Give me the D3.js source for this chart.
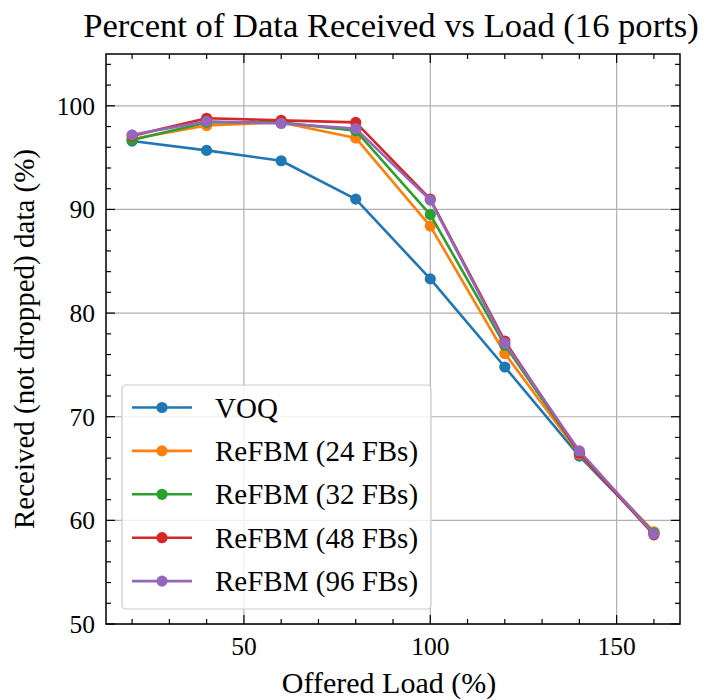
<!DOCTYPE html>
<html>
<head>
<meta charset="utf-8">
<script src="https://cdn.jsdelivr.net/npm/d3@7"></script>
<style>
  html, body { margin: 0; padding: 0; background: #fff; }
  svg { display: block; font-family: "Liberation Serif", "DejaVu Serif", serif; }
</style>
</head>
<body>
<svg id="chart" width="704" height="700"></svg>
<script>
// Offered load levels (%)
const loads = [20, 40, 60, 80, 100, 120, 140, 160];

// Received (not dropped) data (%) for each scheme
const voq     = [96.6, 95.7, 94.7, 91.0, 83.3, 74.8, 66.2, 58.8];
const refbm24 = [96.8, 98.1, 98.4, 96.9, 88.4, 76.1, 66.4, 58.9];
const refbm32 = [96.7, 98.4, 98.4, 97.6, 89.5, 76.9, 66.5, 58.8];
const refbm48 = [97.1, 98.8, 98.6, 98.4, 91.0, 77.3, 66.5, 58.6];
const refbm96 = [97.2, 98.5, 98.3, 97.8, 90.9, 77.1, 66.7, 58.7];

const seriesNames = ["VOQ", "ReFBM (24 FBs)", "ReFBM (32 FBs)", "ReFBM (48 FBs)", "ReFBM (96 FBs)"];
const seriesValues = [voq, refbm24, refbm32, refbm48, refbm96];
const colors = ["#1f77b4", "#ff7f0e", "#2ca02c", "#d62728", "#9467bd"];

const xTicks = [50, 100, 150];
const yTicks = [50, 60, 70, 80, 90, 100];

const titleText = "Percent of Data Received vs Load (16 ports)";
const xLabel = "Offered Load (%)";
const yLabel = "Received (not dropped) data (%)";

const margin = { left: 106, top: 54, right: 24, bottom: 76 };
const W = 704, H = 700;
const pw = W - margin.left - margin.right;
const ph = H - margin.top - margin.bottom;

const svg = d3.select("#chart");

const x = d3.scaleLinear().domain([13, 167]).range([margin.left, margin.left + pw]);
const y = d3.scaleLinear().domain([50, 105]).range([margin.top + ph, margin.top]);

// grid
const grid = svg.append("g");
grid.selectAll("line.gx").data(xTicks).join("line")
  .attr("x1", d => x(d)).attr("x2", d => x(d))
  .attr("y1", margin.top).attr("y2", margin.top + ph)
  .attr("stroke", "#b0b0b0").attr("stroke-width", 1.2);
grid.selectAll("line.gy").data(yTicks).join("line")
  .attr("y1", d => y(d)).attr("y2", d => y(d))
  .attr("x1", margin.left).attr("x2", margin.left + pw)
  .attr("stroke", "#b0b0b0").attr("stroke-width", 1.2);

// series lines and markers
const line = d3.line().x((d, i) => x(loads[i])).y(d => y(d));
seriesValues.forEach((vals, k) => {
  const g = svg.append("g");
  g.append("path").datum(vals).attr("d", line)
    .attr("fill", "none").attr("stroke", colors[k]).attr("stroke-width", 2.6)
    .attr("stroke-linejoin", "round");
  g.selectAll("circle").data(vals).join("circle")
    .attr("cx", (d, i) => x(loads[i])).attr("cy", d => y(d))
    .attr("r", 5.6).attr("fill", colors[k]);
});

// ticks (inward, all four sides)
const ticks = svg.append("g").attr("stroke", "#000").attr("stroke-width", 1.2);
const xMinor = d3.range(20, 170, 10).filter(v => !xTicks.includes(v));
const yMinor = d3.range(52, 105, 2).filter(v => !yTicks.includes(v));
const majLen = 9, minLen = 5;
function vt(vals, len) {
  vals.forEach(v => {
    ticks.append("line").attr("x1", x(v)).attr("x2", x(v))
      .attr("y1", margin.top + ph).attr("y2", margin.top + ph - len);
    ticks.append("line").attr("x1", x(v)).attr("x2", x(v))
      .attr("y1", margin.top).attr("y2", margin.top + len);
  });
}
function ht(vals, len) {
  vals.forEach(v => {
    ticks.append("line").attr("y1", y(v)).attr("y2", y(v))
      .attr("x1", margin.left).attr("x2", margin.left + len);
    ticks.append("line").attr("y1", y(v)).attr("y2", y(v))
      .attr("x1", margin.left + pw).attr("x2", margin.left + pw - len);
  });
}
vt(xTicks, majLen); vt(xMinor, minLen);
ht(yTicks, majLen); ht(yMinor, minLen);

// frame
svg.append("rect").attr("x", margin.left).attr("y", margin.top)
  .attr("width", pw).attr("height", ph)
  .attr("fill", "none").attr("stroke", "#000").attr("stroke-width", 1.5);

// tick labels
svg.append("g").selectAll("text").data(xTicks).join("text")
  .attr("x", d => x(d)).attr("y", margin.top + ph + 31)
  .attr("text-anchor", "middle").attr("font-size", 25.5).text(d => d);
svg.append("g").selectAll("text").data(yTicks).join("text")
  .attr("x", margin.left - 11).attr("y", d => y(d)).attr("dy", "0.35em")
  .attr("text-anchor", "end").attr("font-size", 25.5).text(d => d);

// axis labels and title
svg.append("text").attr("x", margin.left + pw / 2 - 4).attr("y", 693)
  .attr("text-anchor", "middle").attr("font-size", 30).text(xLabel);
svg.append("text").attr("transform", `translate(34,${margin.top + ph / 2}) rotate(-90)`)
  .attr("text-anchor", "middle").attr("font-size", 29).text(yLabel);
svg.append("text").attr("x", 391).attr("y", 37)
  .attr("text-anchor", "middle").attr("font-size", 34.6).text(titleText);

// legend
const lg = svg.append("g");
lg.append("rect").attr("x", 122).attr("y", 385).attr("width", 309).attr("height", 224)
  .attr("rx", 4).attr("fill", "#fff").attr("fill-opacity", 0.8)
  .attr("stroke", "#cccccc").attr("stroke-width", 1.2);
seriesNames.forEach((name, k) => {
  const yy = 407.5 + k * 43.4;
  lg.append("line").attr("x1", 132).attr("x2", 192).attr("y1", yy).attr("y2", yy)
    .attr("stroke", colors[k]).attr("stroke-width", 2.6);
  lg.append("circle").attr("cx", 162).attr("cy", yy).attr("r", 5.6).attr("fill", colors[k]);
  lg.append("text").attr("x", 215).attr("y", yy).attr("dy", "0.35em")
    .attr("font-size", 29).text(name);
});
</script>
</body>
</html>
